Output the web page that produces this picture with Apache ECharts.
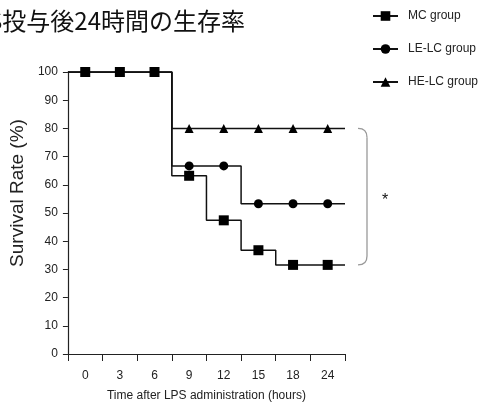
<!DOCTYPE html>
<html>
<head>
<meta charset="utf-8">
<script src="https://cdn.jsdelivr.net/npm/echarts@6/dist/echarts.min.js"></script>
<style>
html,body{margin:0;padding:0;background:#fff;}
#main{width:481px;height:408px;}
</style>
</head>
<body>
<div id="main"></div>
<script>
var titleText = 'LPS投与後24時間の生存率';
var categories = ['0', '3', '6', '9', '12', '15', '18', '24'];
var seriesNames = ['MC group', 'LE-LC group', 'HE-LC group'];
var mcValues = [100, 100, 100, 63.2, 47.4, 36.8, 31.6, 31.6];
var leValues = [100, 100, 100, 66.7, 66.7, 53.3, 53.3, 53.3];
var heValues = [100, 100, 100, 80, 80, 80, 80, 80];
var yTicks = [0, 10, 20, 30, 40, 50, 60, 70, 80, 90, 100];

var FONT = 'Arial, "Liberation Sans", sans-serif';
var chart = echarts.init(document.getElementById('main'));

function buildData(vals) {
  var n = vals.length;
  var out = [{ value: [-0.5, vals[0]], symbol: 'none' }];
  vals.forEach(function (v, i) { out.push({ value: [i, v] }); });
  out.push({ value: [n - 0.5, vals[n - 1]], symbol: 'none' });
  return out;
}

function lineSeries(name, vals, symbol, size, z) {
  return {
    name: name,
    type: 'line',
    xAxisIndex: 1,
    yAxisIndex: 0,
    step: 'middle',
    data: buildData(vals),
    symbol: symbol,
    symbolSize: size,
    showAllSymbol: true,
    z: z,
    lineStyle: { color: '#111', width: 1.5 },
    itemStyle: { color: '#000' },
    animation: false
  };
}

var option = {
  animation: false,
  backgroundColor: '#fff',
  grid: { left: 63, right: 136, top: 72, bottom: 54 },
  legend: {
    orient: 'vertical',
    left: 367,
    top: 5,
    itemWidth: 25,
    itemHeight: 12,
    itemGap: 21,
    data: seriesNames,
    textStyle: { fontFamily: FONT, fontSize: 12, color: '#222', padding: [0, 0, 0, 5] }
  },
  xAxis: [{
    type: 'category',
    data: categories,
    boundaryGap: true,
    axisLine: { onZero: false, lineStyle: { color: '#222', width: 1.2 } },
    axisTick: { show: true, length: 7, alignWithLabel: false, lineStyle: { color: '#222' } },
    axisLabel: { fontFamily: FONT, fontSize: 12, color: '#222', margin: 16 },
    name: 'Time after LPS administration (hours)',
    nameLocation: 'middle',
    nameGap: 36,
    nameTextStyle: { fontFamily: FONT, fontSize: 12, color: '#222' }
  }, {
    type: 'value',
    min: -0.5,
    max: categories.length - 0.5,
    show: false,
    splitLine: { show: false }
  }],
  yAxis: {
    type: 'value',
    min: yTicks[0],
    max: yTicks[yTicks.length - 1],
    interval: 10,
    axisLine: { show: true, onZero: false, lineStyle: { color: '#222', width: 1.2 } },
    axisTick: { show: true, length: 5, lineStyle: { color: '#222' } },
    splitLine: { show: false },
    axisLabel: { fontFamily: FONT, fontSize: 12, color: '#222', margin: 10 },
    name: 'Survival Rate (%)',
    nameLocation: 'middle',
    nameGap: 30,
    nameTextStyle: { fontFamily: FONT, fontSize: 19, color: '#222', padding: [0, 0, 0, 40] }
  },
  series: [
    lineSeries(seriesNames[2], heValues, 'triangle', 9, 2),
    lineSeries(seriesNames[1], leValues, 'circle', 9, 3),
    lineSeries(seriesNames[0], mcValues, 'rect', 10, 4)
  ]
};
chart.setOption(option);

// annotations: bracket between HE-LC and MC end levels, title
var n = categories.length;
var pTop = chart.convertToPixel({ xAxisIndex: 1, yAxisIndex: 0 }, [n - 0.5, heValues[n - 1]]);
var pBot = chart.convertToPixel({ xAxisIndex: 1, yAxisIndex: 0 }, [n - 0.5, mcValues[n - 1]]);
var bx0 = pTop[0] + 13, bx1 = pTop[0] + 22, r = 9;
var bStyle = { fill: 'none', stroke: '#999', lineWidth: 1.3 };
chart.setOption({
  graphic: [{
    type: 'bezierCurve',
    shape: { x1: bx0, y1: pTop[1], cpx1: bx1, cpy1: pTop[1], x2: bx1, y2: pTop[1] + r },
    style: bStyle
  }, {
    type: 'line',
    shape: { x1: bx1, y1: pTop[1] + r, x2: bx1, y2: pBot[1] - r },
    style: bStyle
  }, {
    type: 'bezierCurve',
    shape: { x1: bx1, y1: pBot[1] - r, cpx1: bx1, cpy1: pBot[1], x2: bx0, y2: pBot[1] },
    style: bStyle
  }, {
    type: 'text',
    x: bx1 + 18,
    y: (pTop[1] + pBot[1]) / 2 + 4,
    style: { text: '*', font: '16px Arial', fill: '#111', textAlign: 'center', textVerticalAlign: 'middle' }
  }, {
    type: 'text',
    x: 245,
    y: 21,
    style: {
      text: titleText,
      font: '24px "Noto Sans CJK JP"',
      fill: '#111',
      textAlign: 'right',
      textVerticalAlign: 'middle'
    }
  }]
});
</script>
</body>
</html>
